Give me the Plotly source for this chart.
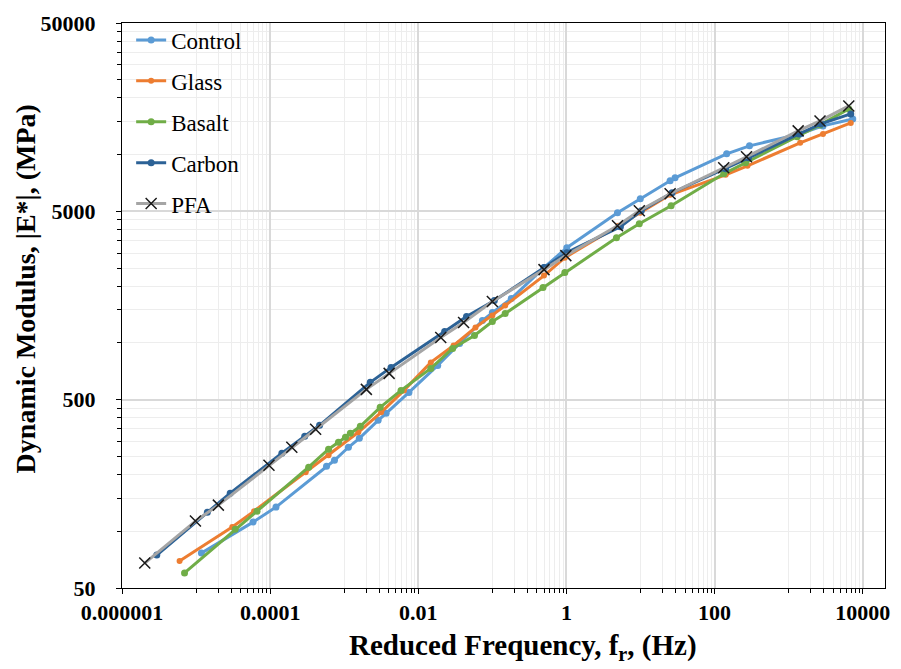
import plotly.graph_objects as go

# ---------------- data ----------------
control_f = [1.18e-5, 5.88e-5, 1.20e-4, 5.77e-4, 7.39e-4, 1.14e-3, 1.60e-3, 2.87e-3, 3.68e-3, 7.48e-3,
             0.0183, 0.0361, 0.0734, 0.100, 0.180, 0.498, 1.012, 4.89, 9.94, 25.1, 29.3, 145.7, 296.3,
             1431, 2910, 7345]
control_e = [76.6, 111.9, 134.4, 221.6, 238.4, 279.4, 311.8, 388.5, 423.1, 546.6,
             760, 994, 1316, 1450, 1721, 2513, 3206, 4915, 5832, 7263, 7534, 10097, 11135,
             12890, 14210, 15470]

glass_f = [5.99e-6, 3.08e-5, 6.07e-5, 3.02e-4, 6.14e-4, 1.55e-3, 3.15e-3, 6.41e-3, 0.01476, 0.030,
           0.0592, 0.100, 0.149, 0.498, 0.952, 5.04, 9.94, 25.1, 141.3, 278.6, 1431, 2910, 6902]
glass_e = [69.5, 105.3, 127.9, 205.9, 253.4, 335.6, 428.3, 560.1, 788.6, 970,
           1208, 1398, 1579, 2279, 2839, 4193, 4915, 6120, 7815, 8723, 11550, 12890, 14740]

basalt_f = [6.99e-6, 3.37e-5, 6.65e-5, 3.31e-4, 6.14e-4, 8.36e-4, 1.04e-3, 1.21e-3, 1.65e-3, 3.06e-3,
            5.85e-3, 0.01476, 0.0291, 0.0574, 0.100, 0.149, 0.483, 0.952, 4.74, 9.64, 25.9,
            132.9, 262, 1304, 2653, 6492]
basalt_e = [60.1, 102.7, 127.9, 218.9, 272.7, 296.9, 315.6, 331.5, 361.1, 455.3,
            560.1, 732.9, 935.1, 1096, 1300, 1433, 1968, 2364, 3623, 4297, 5352,
            7911, 9048, 12430, 14380, 17490]

carbon_f = [2.95e-6, 1.42e-5, 2.89e-5, 1.44e-4, 2.93e-4, 4.65e-4, 2.25e-3, 4.29e-3, 0.0227, 0.0448,
            0.1064, 0.498, 1.012, 5.36, 10.25, 26.7, 141.3, 287, 1387, 2735, 6902]
carbon_e = [74.8, 126.4, 159.4, 259.7, 319.5, 365.5, 617.9, 741.9, 1150.8, 1381,
            1680, 2513, 3017, 4143, 5037, 6275, 8411, 9616, 12890, 14560, 16450]

pfa_f = [2.03e-6, 9.8e-6, 2.0e-5, 9.64e-5, 1.96e-4, 4.11e-4, 1.99e-3, 4.04e-3, 0.0201, 0.0409,
         0.100, 0.498, 0.982, 4.89, 9.64, 25.1, 132.9, 270, 1345, 2653, 6492]
pfa_e = [67.8, 113.3, 137.7, 224.3, 279.4, 348.1, 567, 689.5, 1069.6, 1284,
         1659, 2452, 2909, 4193, 5037, 6199, 8512, 9735, 13370, 15100, 18140]

x_tickvals = [1e-6, 1e-4, 1e-2, 1, 100, 10000]
x_ticktext = ["0.000001", "0.0001", "0.01", "1", "100", "10000"]
y_tickvals = [50, 500, 5000, 50000]
y_ticktext = ["50", "500", "5000", "50000"]
x_title = "<b>Reduced Frequency, f<sub>r</sub>, (Hz)</b>"
y_title = "<b>Dynamic Modulus, |E*|, (MPa)</b>"

# minor ticks / gridlines (Excel style)
x_minor = [k * 10.0 ** d for d in (-5, -3, -1, 1, 3) for k in range(1, 10)]
y_minor = [k * 50 * 10.0 ** n for n in (0, 1, 2) for k in range(2, 10)]

SERIF = "Liberation Serif, Times New Roman, serif"

fig = go.Figure()

fig.add_trace(go.Scatter(x=control_f, y=control_e, name="Control", mode="lines+markers",
                         line=dict(color="#5B9BD5", width=3),
                         marker=dict(symbol="circle", size=7, color="#5B9BD5"),
                         legendgroup="a"))
fig.add_trace(go.Scatter(x=glass_f, y=glass_e, name="Glass", mode="lines+markers",
                         line=dict(color="#ED7D31", width=3),
                         marker=dict(symbol="circle", size=6, color="#ED7D31"),
                         legendgroup="b"))
fig.add_trace(go.Scatter(x=basalt_f, y=basalt_e, name="Basalt", mode="lines+markers",
                         line=dict(color="#70AD47", width=3),
                         marker=dict(symbol="circle", size=7, color="#70AD47"),
                         legendgroup="c"))
fig.add_trace(go.Scatter(x=carbon_f, y=carbon_e, name="Carbon", mode="lines+markers",
                         line=dict(color="#2C6296", width=3),
                         marker=dict(symbol="circle", size=7, color="#2C6296"),
                         legendgroup="d"))
fig.add_trace(go.Scatter(x=pfa_f, y=pfa_e, name="PFA", mode="lines+markers",
                         line=dict(color="#A5A5A5", width=3),
                         marker=dict(symbol="x-thin", size=11, color="#1A1A1A",
                                     line=dict(color="#1A1A1A", width=1.5)),
                         legendgroup="e"))

fig.update_layout(
    width=901, height=669,
    margin=dict(l=122, r=11, t=22, b=81),
    paper_bgcolor="white", plot_bgcolor="white",
    font=dict(family=SERIF, color="black"),
    showlegend=True,
    legend=dict(x=0.012, y=1.008, xanchor="left", yanchor="top",
                bgcolor="rgba(255,255,255,0)", font=dict(family=SERIF, size=23, color="black"),
                tracegroupgap=8, itemwidth=30),
    annotations=[
        dict(text=x_title, xref="paper", yref="paper", x=0.525, y=-0.104,
             xanchor="center", yanchor="middle", showarrow=False,
             font=dict(family=SERIF, size=29, color="black")),
        dict(text=y_title, xref="paper", yref="paper", x=-0.126, y=0.53,
             xanchor="center", yanchor="middle", showarrow=False, textangle=-90,
             font=dict(family=SERIF, size=28, color="black")),
    ],
)

fig.update_xaxes(
    type="log", range=[-6, 4.30103],
    tickmode="array", tickvals=x_tickvals, ticktext=x_ticktext,
    tickfont=dict(family=SERIF, size=22, color="black", weight="bold"),
    ticks="outside", ticklen=5, tickcolor="black",
    showline=True, linecolor="black", linewidth=1, mirror=True,
    showgrid=True, gridcolor="#D9D9D9", gridwidth=1.5,
    minor=dict(tickmode="array", tickvals=x_minor, ticks="outside", ticklen=4,
               tickcolor="black", showgrid=True, gridcolor="#EDEDED", gridwidth=1),
    zeroline=False,
)
fig.update_yaxes(
    type="log", range=[1.69897, 4.69897],
    tickmode="array", tickvals=y_tickvals, ticktext=y_ticktext,
    tickfont=dict(family=SERIF, size=22, color="black", weight="bold"),
    ticks="outside", ticklen=5, tickcolor="black", ticklabelstandoff=16,
    showline=True, linecolor="black", linewidth=1, mirror=True,
    showgrid=True, gridcolor="#D9D9D9", gridwidth=1.5,
    minor=dict(tickmode="array", tickvals=y_minor, ticks="outside", ticklen=4,
               tickcolor="black", showgrid=True, gridcolor="#EDEDED", gridwidth=1),
    zeroline=False,
)

fig.write_html("out.html", config={"displayModeBar": False},
               post_script="document.body.style.margin='0px';document.body.style.overflow='hidden';")
